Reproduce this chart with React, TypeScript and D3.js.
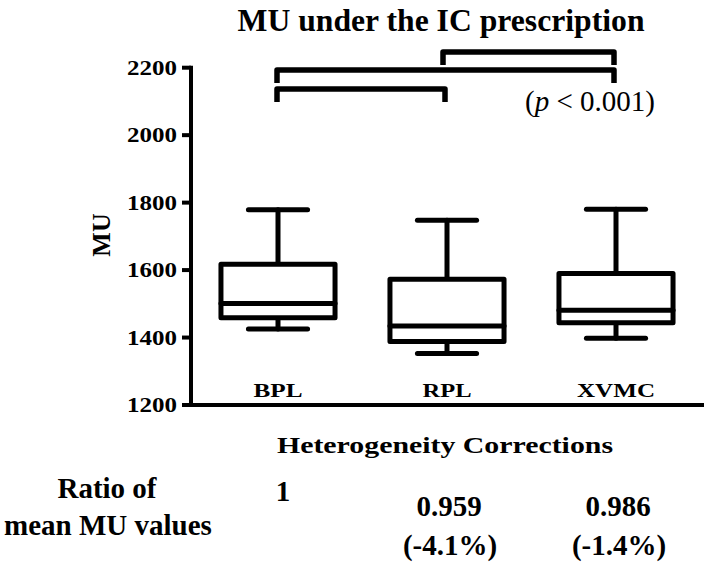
import React from "react";
import * as d3 from "d3";

const categories = ["BPL", "RPL", "XVMC"];
const whiskerMax = [1779, 1748, 1780];
const q3 = [1617, 1573, 1590];
const median = [1501, 1434, 1481];
const q1 = [1459, 1388, 1444];
const whiskerMin = [1425, 1353, 1398];
const yTicks = [1200, 1400, 1600, 1800, 2000, 2200];
const comparisons: [string, string][] = [
  ["RPL", "XVMC"],
  ["BPL", "XVMC"],
  ["BPL", "RPL"],
];
const ratioValues = ["1", "0.959", "0.986"];
const ratioPercents = ["", "(-4.1%)", "(-1.4%)"];

const W = 704;
const H = 563;
const FONT = "'Liberation Serif', 'Times New Roman', serif";

export default function App() {
  const y = d3.scaleLinear().domain([1200, 2200]).range([405, 67.7]);
  const x = d3.scaleBand<string>().domain(categories).range([193.5, 700.5]);
  const cx = (c: string) => (x(c) as number) + x.bandwidth() / 2;
  const boxW = x.bandwidth() * 0.675;
  const capW = x.bandwidth() * 0.35;
  const axisX = 191;
  const sw = 5;

  const bracketY = [52, 70, 89];
  const legLen = 13;

  return (
    <svg
      width={W}
      height={H}
      style={{ position: "absolute", left: 0, top: 0, background: "#fff" }}
      fontFamily={FONT}
    >
      <rect width={W} height={H} fill="#fff" />
      {/* title */}
      <text
        x={441}
        y={31}
        textAnchor="middle"
        fontSize={32}
        fontWeight="bold"
        textLength={407}
        lengthAdjust="spacingAndGlyphs"
      >
        MU under the IC prescription
      </text>

      {/* axes */}
      <line x1={axisX} x2={axisX} y1={y(2200) - 2} y2={y(1200) + 2} stroke="#000" strokeWidth={4} />
      <line x1={axisX - 2} x2={W} y1={y(1200)} y2={y(1200)} stroke="#000" strokeWidth={4} />
      {yTicks.map((t) => (
        <g key={t}>
          <line x1={axisX - 9} x2={axisX} y1={y(t)} y2={y(t)} stroke="#000" strokeWidth={4} />
          <text
            x={177}
            y={y(t) + 7}
            textAnchor="end"
            fontSize={20}
            fontWeight="bold"
            textLength={50}
            lengthAdjust="spacingAndGlyphs"
          >
            {t}
          </text>
        </g>
      ))}
      <text
        transform={`translate(110, 235) rotate(-90)`}
        textAnchor="middle"
        fontSize={26}
        fontWeight="bold"
      >
        MU
      </text>

      {/* boxes */}
      {categories.map((c, i) => {
        const xc = cx(c);
        return (
          <g key={c} stroke="#000" strokeWidth={sw} fill="none" strokeLinecap="round" strokeLinejoin="round">
            <line x1={xc} x2={xc} y1={y(whiskerMax[i])} y2={y(q3[i])} />
            <line x1={xc} x2={xc} y1={y(q1[i])} y2={y(whiskerMin[i])} />
            <line x1={xc - capW / 2} x2={xc + capW / 2} y1={y(whiskerMax[i])} y2={y(whiskerMax[i])} />
            <line x1={xc - capW / 2} x2={xc + capW / 2} y1={y(whiskerMin[i])} y2={y(whiskerMin[i])} />
            <rect x={xc - boxW / 2} y={y(q3[i])} width={boxW} height={y(q1[i]) - y(q3[i])} fill="#fff" />
            <line x1={xc - boxW / 2} x2={xc + boxW / 2} y1={y(median[i])} y2={y(median[i])} />
          </g>
        );
      })}

      {/* category labels */}
      {categories.map((c) => (
        <text
          key={c}
          x={cx(c)}
          y={397}
          textAnchor="middle"
          fontSize={19}
          fontWeight="bold"
          textLength={c.length === 4 ? 78 : 49}
          lengthAdjust="spacingAndGlyphs"
        >
          {c}
        </text>
      ))}

      {/* brackets */}
      {comparisons.map(([a, b], i) => {
        const x1 = cx(a) + (i === 0 ? -4 : -1);
        const x2 = cx(b) - 2;
        const by = bracketY[i];
        return (
          <path
            key={i}
            d={`M${x1},${by + legLen} L${x1},${by} L${x2},${by} L${x2},${by + legLen}`}
            fill="none"
            stroke="#000"
            strokeWidth={5.5}
            strokeLinejoin="round"
          />
        );
      })}
      <text x={525} y={111} fontSize={29}>
        (<tspan fontStyle="italic">p</tspan> &lt; 0.001)
      </text>

      {/* x title */}
      <text
        x={277}
        y={453}
        fontSize={24}
        fontWeight="bold"
        textLength={336}
        lengthAdjust="spacingAndGlyphs"
      >
        Heterogeneity Corrections
      </text>

      {/* ratio row */}
      <text x={107} y={498} textAnchor="middle" fontSize={29} fontWeight="bold">
        Ratio of
      </text>
      <text x={108} y={535} textAnchor="middle" fontSize={29} fontWeight="bold">
        mean MU values
      </text>
      {categories.map((c, i) => (
        <g key={c}>
          <text
            x={i === 0 ? cx(c) + 5 : cx(c) + 2}
            y={i === 0 ? 501 : 516}
            textAnchor="middle"
            fontSize={29}
            fontWeight="bold"
          >
            {ratioValues[i]}
          </text>
          {ratioPercents[i] && (
            <text x={cx(c) + 3} y={555} textAnchor="middle" fontSize={29} fontWeight="bold">
              {ratioPercents[i]}
            </text>
          )}
        </g>
      ))}
    </svg>
  );
}
